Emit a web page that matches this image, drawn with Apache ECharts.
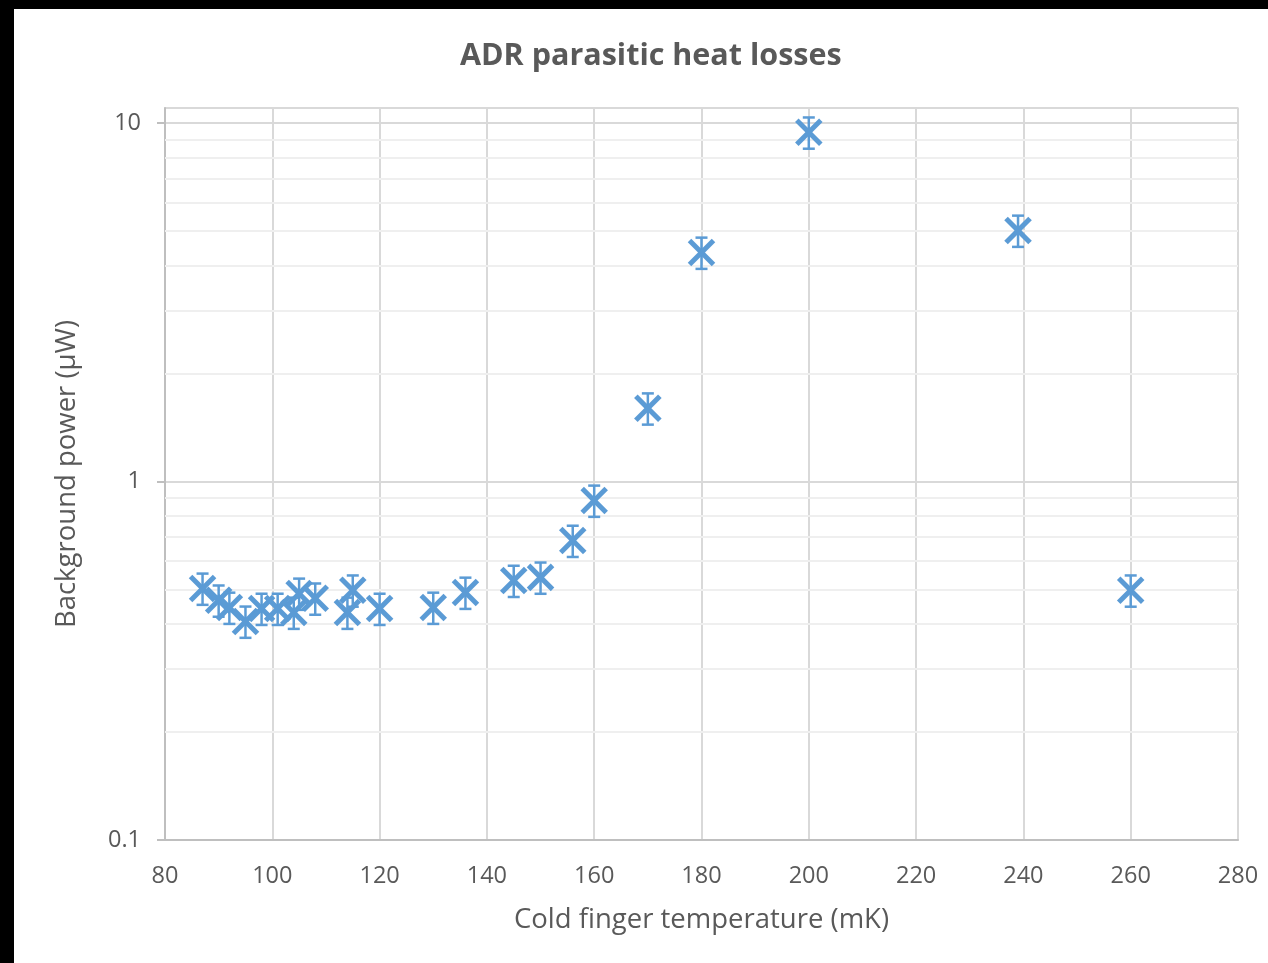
<!DOCTYPE html>
<html>
<head>
<meta charset="utf-8">
<title>ADR parasitic heat losses</title>
<script src="https://cdn.jsdelivr.net/npm/echarts@6/dist/echarts.min.js"></script>
<style>
  html, body { margin: 0; padding: 0; background: #000; }
  #chart {
    position: absolute;
    left: 14px;
    top: 9px;
    width: 1254px;
    height: 954px;
    background: #fff;
  }
</style>
</head>
<body>
<div id="chart"></div>
<script>
// cold finger temperature (mK)
const temps = [87, 90, 92, 95, 98, 101, 104, 105, 108, 114, 115, 120, 130, 136, 145, 150, 156, 160, 170, 180, 200, 239, 260];
// background power (uW)
const power = [0.503, 0.466, 0.445, 0.407, 0.442, 0.442, 0.431, 0.487, 0.472, 0.431, 0.497, 0.442, 0.445, 0.490, 0.529, 0.540, 0.684, 0.885, 1.60, 4.35, 9.41, 5.01, 0.497];
// relative error bar (+/- 10 %)
const errFrac = 0.1;

const xTicks = [80, 100, 120, 140, 160, 180, 200, 220, 240, 260, 280];
const yMajor = [0.1, 1, 10];
const yMinor = [0.2, 0.3, 0.4, 0.5, 0.6, 0.7, 0.8, 0.9, 2, 3, 4, 5, 6, 7, 8, 9];

const blue = '#5b9bd5';
const textColor = '#595959';
const font = '"Open Sans", "Liberation Sans", sans-serif';

const chart = echarts.init(document.getElementById('chart'));

function renderPoint(params, api) {
  const x = api.value(0);
  const y = api.value(1);
  const c = api.coord([x, y]);
  const hi = api.coord([x, y * (1 + errFrac)]);
  const lo = api.coord([x, y * (1 - errFrac)]);
  const r = 12;
  const cap = 6;
  const bar = { stroke: blue, lineWidth: 2.5 };
  const cross = { stroke: blue, lineWidth: 5 };
  return {
    type: 'group',
    children: [
      { type: 'line', shape: { x1: c[0], y1: hi[1], x2: c[0], y2: lo[1] }, style: bar },
      { type: 'line', shape: { x1: c[0] - cap, y1: hi[1], x2: c[0] + cap, y2: hi[1] }, style: bar },
      { type: 'line', shape: { x1: c[0] - cap, y1: lo[1], x2: c[0] + cap, y2: lo[1] }, style: bar },
      { type: 'line', shape: { x1: c[0] - r, y1: c[1] - r, x2: c[0] + r, y2: c[1] + r }, style: cross },
      { type: 'line', shape: { x1: c[0] - r, y1: c[1] + r, x2: c[0] + r, y2: c[1] - r }, style: cross },
    ],
  };
}

chart.setOption({
  animation: false,
  textStyle: { fontFamily: font },
  title: {
    text: 'ADR parasitic heat losses',
    left: 441,
    top: 27,
    textStyle: { color: textColor, fontSize: 30.5, fontWeight: 'bold', fontFamily: font },
  },
  grid: {
    left: 151,
    right: 30,
    top: 99,
    bottom: 123,
    show: true,
    borderColor: '#ececec',
    borderWidth: 2,
    containLabel: false,
  },
  xAxis: {
    type: 'value',
    min: xTicks[0],
    max: xTicks[xTicks.length - 1],
    interval: 20,
    name: 'Cold finger temperature (mK)',
    nameLocation: 'middle',
    nameGap: 66,
    nameTextStyle: { color: textColor, fontSize: 27.5, fontFamily: font },
    axisLine: { lineStyle: { color: '#bfbfbf', width: 2 } },
    axisTick: { show: false },
    axisLabel: { color: textColor, fontSize: 23.5, margin: 24, fontFamily: font },
    splitLine: { show: true, showMinLine: false, lineStyle: { color: '#d9d9d9', width: 2 } },
  },
  yAxis: {
    type: 'log',
    logBase: 10,
    min: yMajor[0],
    max: 11,
    interval: 1,
    name: 'Background power (µW)',
    nameLocation: 'middle',
    nameGap: 84,
    nameTextStyle: { color: textColor, fontSize: 27.5, fontFamily: font },
    axisLine: { show: true, lineStyle: { color: '#bfbfbf', width: 2 } },
    axisTick: { show: true, length: 8, lineStyle: { color: '#bfbfbf', width: 2 } },
    axisLabel: { color: textColor, fontSize: 23.5, margin: 24, fontFamily: font },
    splitLine: { show: true, showMinLine: false, lineStyle: { color: '#d9d9d9', width: 2 } },
  },
  series: [
    {
      type: 'custom',
      name: 'minor grid',
      silent: true,
      data: [],
      renderItem: () => null,
      markLine: {
        silent: true,
        symbol: 'none',
        label: { show: false },
        lineStyle: { color: '#efefef', width: 2, type: 'solid' },
        data: yMinor.map((v) => ({ yAxis: v })),
        z: 1,
      },
      z: 1,
    },
    {
      type: 'custom',
      name: 'Background power',
      clip: false,
      data: temps.map((t, i) => [t, power[i]]),
      renderItem: renderPoint,
      z: 10,
    },
  ],
});
</script>
</body>
</html>
